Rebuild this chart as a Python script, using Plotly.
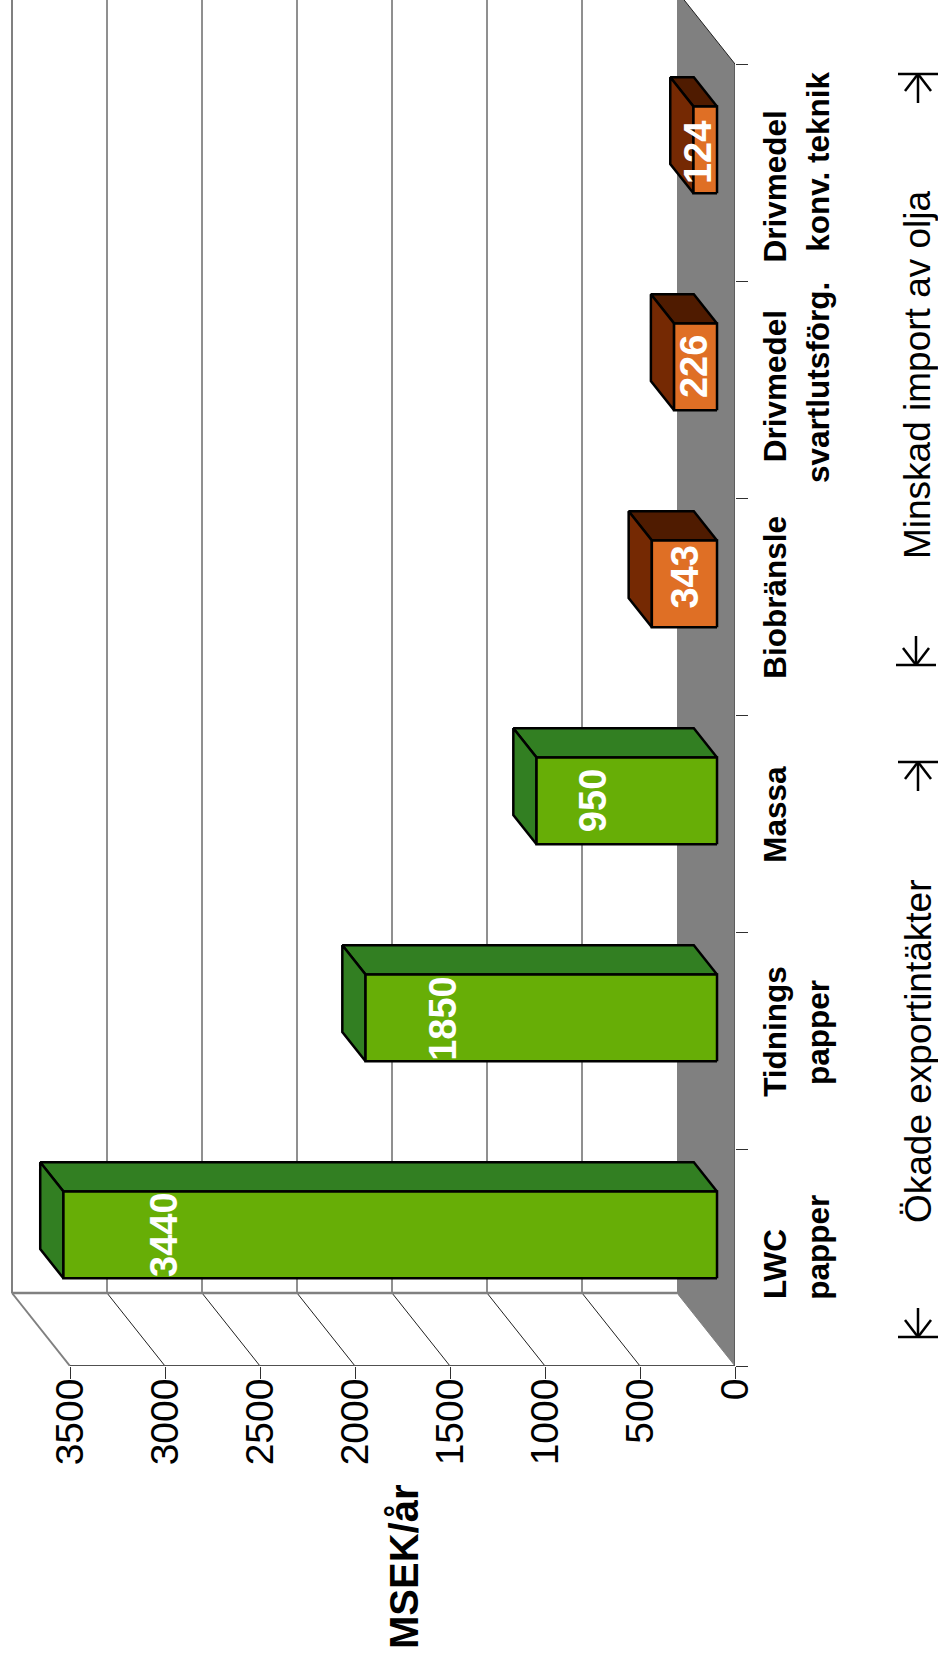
import plotly.graph_objects as go

# ---- data ----
values = [3440, 1850, 950, 343, 226, 124]
value_label_pos = [3005, 1537, 746, 262, 215, 194]
value_label_cat = [0.5, 1.5, 2.5, 3.53, 4.5, 5.486]
value_ticks = [0, 500, 1000, 1500, 2000, 2500, 3000, 3500]
category_ticks = [0, 1, 2, 3, 4, 5, 6]
# label line, category position (in category units), line number
label_lines = [
    ("LWC", 0.47, 0), ("papper", 0.545, 1),
    ("Tidnings", 1.54, 0), ("papper", 1.535, 1),
    ("Massa", 2.54, 0),
    ("Biobränsle", 3.54, 0),
    ("Drivmedel", 4.515, 0), ("svartlutsförg.", 4.53, 1),
    ("Drivmedel", 5.435, 0), ("konv. teknik", 5.55, 1),
]
notes = [("Ökade exportintäkter", 1052), ("Minskad import av olja", 375)]
face_colors = ["#67AE06", "#67AE06", "#67AE06", "#DF6F25", "#DF6F25", "#DF6F25"]
side_colors = ["#327F22", "#327F22", "#327F22", "#752903", "#752903", "#752903"]
roof_colors = ["#327F22", "#327F22", "#327F22", "#4F1B00", "#4F1B00", "#4F1B00"]

# ---- page geometry ----
W, H = 938, 1666
X0, Y0 = 735, 1366          # pixel of value 0 / category 0
PX_PER_VAL = 665 / 3500
PX_PER_CAT = 217.0
XMAX = X0 / PX_PER_VAL
YMAX = Y0 / PX_PER_CAT
DEPTH_X = 58 / PX_PER_VAL   # 3-D depth of the floor, in value units
DEPTH_Y = 73 / PX_PER_CAT   # same, in category units
F0, F1 = 0.31, 0.71         # bar front / back in the depth
BAR_W = 0.4


def px(x):
    return x / X0


def py(y):
    return 1 - y / Y0


def depth(v, c, f):
    return v + f * DEPTH_X, c + f * DEPTH_Y


def poly(xs, ys, fill, line=None, lw=0):
    return go.Scatter(
        x=xs + xs[:1], y=ys + ys[:1], mode="lines", fill="toself", fillcolor=fill,
        line=dict(color=line or fill, width=lw), hoverinfo="skip", showlegend=False,
        cliponaxis=True,
    )


def seg(xs, ys, color, lw):
    return go.Scatter(
        x=xs, y=ys, mode="lines", line=dict(color=color, width=lw),
        hoverinfo="skip", showlegend=False, cliponaxis=False,
    )


fig = go.Figure()

# floor
c_lo, c_hi = category_ticks[0], category_ticks[-1]
fig.add_trace(poly(
    [0, 0, DEPTH_X, DEPTH_X], [c_lo, c_hi, c_hi + DEPTH_Y, c_lo + DEPTH_Y], "#808080"))
fig.add_trace(seg([0, DEPTH_X], [c_hi, c_hi + DEPTH_Y], "#202020", 1))

# wall grid and side grid
for v in value_ticks[1:]:
    last = v == value_ticks[-1]
    col, lw = ("#808080", 2) if last else ("#202020", 1)
    fig.add_trace(seg([v, v + DEPTH_X], [c_lo, c_lo + DEPTH_Y], col, lw))
    fig.add_trace(go.Scatter(
        x=[v + DEPTH_X, v + DEPTH_X], y=[c_lo + DEPTH_Y, YMAX], mode="lines",
        line=dict(color=col, width=lw), hoverinfo="skip", showlegend=False))
fig.add_trace(seg([DEPTH_X, value_ticks[-1] + DEPTH_X], [c_lo + DEPTH_Y] * 2, "#808080", 2.5))
fig.add_trace(seg([0, DEPTH_X], [c_lo, c_lo + DEPTH_Y], "#808080", 1))

# bars
for i, v in enumerate(values):
    c = i + 0.5
    a, b = c - BAR_W / 2, c + BAR_W / 2
    f00 = depth(0, a, F0); f10 = depth(v, a, F0); f11 = depth(v, b, F0); f01 = depth(0, b, F0)
    r00 = depth(0, a, F1); r10 = depth(v, a, F1); r11 = depth(v, b, F1); r01 = depth(0, b, F1)
    fig.add_trace(poly([f01[0], f11[0], r11[0], r01[0]], [f01[1], f11[1], r11[1], r01[1]],
                       roof_colors[i], "#000000", 2.5))
    fig.add_trace(poly([f10[0], f11[0], r11[0], r10[0]], [f10[1], f11[1], r11[1], r10[1]],
                       side_colors[i], "#000000", 2.5))
    fig.add_trace(poly([f00[0], f10[0], f11[0], f01[0]], [f00[1], f10[1], f11[1], f01[1]],
                       face_colors[i], "#000000", 2.5))

# axis base line
fig.add_trace(seg([0, value_ticks[-1]], [c_lo, c_lo], "#505050", 2))
fig.add_trace(seg([0, 0], [c_lo, c_hi], "#505050", 1.5))

annotations = []
anchor = dict(xanchor="center", yanchor="middle", showarrow=False, textangle=-90)
# value labels on bars
for v, p, cat in zip(values, value_label_pos, value_label_cat):
    annotations.append(dict(
        x=p, y=cat + F0 * DEPTH_Y, xref="x", yref="y", text=f"<b>{v}</b>", **anchor,
        font=dict(family="Liberation Sans", size=38, color="#FFFFFF"),
    ))
# category labels
for text, c, line in label_lines:
    annotations.append(dict(
        x=px(775 + line * 43), y=c, xref="paper", yref="y", text=f"<b>{text}</b>", **anchor,
        font=dict(family="Liberation Sans", size=31.5, color="#000000"),
    ))
# axis title
annotations.append(dict(
    x=px(404), y=py(1567), xref="paper", yref="paper", text="<b>MSEK/år</b>", **anchor,
    font=dict(family="Liberation Sans", size=40, color="#000000"),
))
# direction notes
for text, yp in notes:
    annotations.append(dict(
        x=px(918), y=py(yp), xref="paper", yref="paper", text=text, **anchor,
        font=dict(family="Liberation Sans", size=37, color="#000000"),
    ))

# direction arrows
shapes = []
for bar_y, tail_y, xc in [(1337, 1308, 918), (665, 636, 916), (762, 791, 918), (74, 103, 918)]:
    head = 17 if tail_y < bar_y else -17
    for (x1, y1, x2, y2) in [
        (xc - 20, bar_y, xc + 20, bar_y),
        (xc, bar_y, xc, tail_y),
        (xc, bar_y, xc - 13, bar_y - head),
        (xc, bar_y, xc + 13, bar_y - head),
    ]:
        shapes.append(dict(
            type="line", xref="paper", yref="paper",
            x0=px(x1), y0=py(y1), x1=px(x2), y1=py(y2),
            line=dict(color="#000000", width=2.5),
        ))

fig.update_layout(
    width=W, height=H, autosize=False,
    margin=dict(l=0, r=W - X0, t=0, b=H - Y0, pad=0),
    paper_bgcolor="#FFFFFF", plot_bgcolor="#FFFFFF",
    showlegend=False, annotations=annotations, shapes=shapes,
    xaxis=dict(
        range=[XMAX, 0], tickvals=value_ticks, ticktext=[str(v) for v in value_ticks],
        tickangle=-90, ticks="outside", ticklen=12, tickwidth=1, tickcolor="#303030",
        ticklabelstandoff=-16,
        tickfont=dict(family="Liberation Sans", size=39, color="#000000"),
        showgrid=False, zeroline=False, showline=False, fixedrange=True,
    ),
    yaxis=dict(
        range=[0, YMAX], side="right", tickvals=category_ticks, showticklabels=False,
        ticks="outside", ticklen=12, tickwidth=1, tickcolor="#303030",
        showgrid=False, zeroline=False, showline=False, fixedrange=True,
    ),
)

fig.write_html("out.html", config={"displayModeBar": False},
               post_script="document.body.style.margin='0';document.body.style.overflow='hidden';")
